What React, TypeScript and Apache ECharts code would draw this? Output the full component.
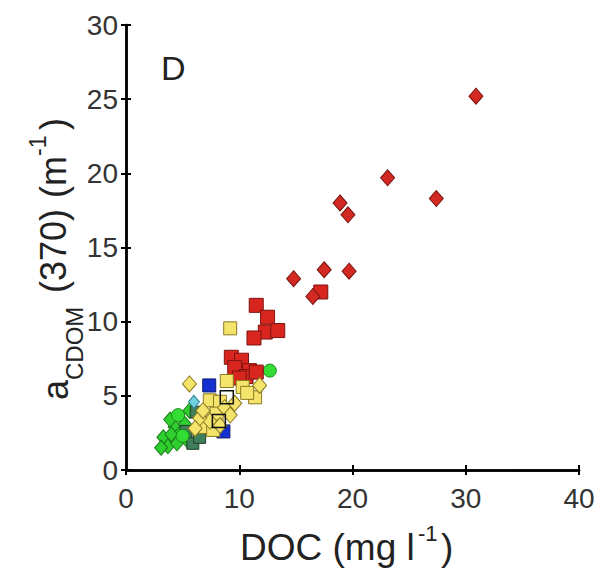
import React, { useEffect, useRef } from "react";
import * as echarts from "echarts";

const xTicks = [0, 10, 20, 30, 40];
const yTicks = [0, 5, 10, 15, 20, 25, 30];

const redDiamonds: number[][] = [
  [30.9, 25.2], [23.1, 19.7], [27.4, 18.3], [18.9, 18.0], [19.6, 17.2],
  [14.8, 12.9], [17.5, 13.5], [19.7, 13.4], [16.5, 11.7],
];
const redSquares: number[][] = [
  [17.2, 12.0], [11.5, 11.1], [12.5, 10.3], [12.3, 9.3], [13.4, 9.4], [11.3, 8.9],
  [9.3, 7.6], [10.2, 7.4], [9.6, 6.9], [10.9, 6.7], [10.6, 6.3], [11.5, 6.6], [10.0, 6.2],
];
const greenCircles: number[][] = [[12.7, 6.7], [4.6, 3.7], [5.0, 2.3]];
const greenDiamonds: number[][] = [
  [3.3, 2.2], [3.7, 1.6], [4.3, 2.9], [4.8, 2.5], [5.4, 2.0], [3.9, 3.4],
  [5.2, 3.1], [5.6, 4.0], [4.5, 1.8], [3.1, 1.5], [4.0, 2.4],
];
const tealSquares: number[][] = [[5.9, 1.8], [6.5, 2.2], [6.2, 3.9], [5.3, 2.6]];
const blackSquares: number[][] = [[8.9, 4.9], [8.2, 3.3]];
const blueSquares: number[][] = [[7.35, 5.7], [8.6, 2.6]];
const cyanDiamonds: number[][] = [[6.0, 4.6]];
const yellowSquares: number[][] = [
  [9.2, 9.55], [8.9, 6.0], [10.3, 5.6], [11.4, 4.9], [10.7, 5.2], [7.4, 4.7],
  [8.3, 4.6], [8.0, 3.8], [7.0, 2.9], [7.7, 2.7],
];
const yellowDiamonds: number[][] = [
  [5.6, 5.8], [11.8, 5.7], [8.7, 4.2], [9.2, 3.7], [7.4, 3.3], [6.5, 3.5],
  [6.1, 2.8], [8.3, 3.0], [6.8, 4.0], [9.6, 4.5],
];

const FONT = "'Liberation Sans', Arial, sans-serif";

export default function App() {
  const ref = useRef<HTMLDivElement>(null);
  useEffect(() => {
    if (!ref.current) return;
    const chart = echarts.init(ref.current, null, { renderer: "svg" });
    const axisLine = { show: true, lineStyle: { color: "#000", width: 2.5 } };
    const tick = { show: true, inside: true, length: 5, lineStyle: { color: "#000", width: 2 } };
    const scatter = (data: number[][], symbol: string, size: any, color: string, border: string, bw = 1) => ({
      type: "scatter",
      data,
      symbol,
      symbolSize: size,
      itemStyle: { color, borderColor: border, borderWidth: bw, opacity: 1 },
      xAxisIndex: 0,
      yAxisIndex: 0,
    });
    const textEl = (text: string, x: number, y: number, size: number, rot = 0, align = "left") => ({
      type: "text",
      x,
      y,
      rotation: rot,
      style: {
        text,
        fontSize: size,
        fontFamily: FONT,
        fill: "#222",
        textAlign: align,
        textVerticalAlign: "middle",
      },
    });
    const R = Math.PI / 2;
    chart.setOption({
      animation: false,
      backgroundColor: "#fff",
      grid: { left: 126, top: 25, right: 21, bottom: 102 },
      xAxis: [
        {
          type: "value", min: 0, max: 40, interval: 10, position: "bottom",
          axisLine, axisTick: tick, splitLine: { show: false },
          axisLabel: { fontSize: 28, color: "#333", fontFamily: FONT, margin: 14 },
        },
        {
          type: "value", min: 0, max: 40, interval: 10, position: "top",
          axisLine, axisTick: tick, splitLine: { show: false }, axisLabel: { show: false },
        },
      ],
      yAxis: [
        {
          type: "value", min: 0, max: 30, interval: 5, position: "left",
          axisLine, axisTick: tick, splitLine: { show: false },
          axisLabel: { fontSize: 28, color: "#333", fontFamily: FONT, margin: 8 },
        },
        {
          type: "value", min: 0, max: 30, interval: 5, position: "right",
          axisLine, axisTick: tick, splitLine: { show: false }, axisLabel: { show: false },
        },
      ],
      series: [
        scatter(greenDiamonds, "diamond", [13, 15], "#2fcf2f", "#1b7a1b"),
        scatter(tealSquares, "rect", 12, "#3f7f5a", "#1f3f2a"),
        scatter(greenCircles, "circle", 13, "#33dd33", "#1a8a1a"),
        scatter(cyanDiamonds, "diamond", [11, 13], "#6fd0e0", "#2f7f8f"),
        scatter(blueSquares, "rect", 13, "#1530d0", "#0a1a70"),
        scatter(redSquares, "rect", 14, "#d8261e", "#7a1410"),
        scatter(redDiamonds, "diamond", [14, 16], "#d22a22", "#7a1410"),
        scatter(yellowSquares, "rect", 13, "#f4e46c", "#8a7a20"),
        scatter(yellowDiamonds, "diamond", [14, 16], "#f4e46c", "#8a7a20"),
        scatter(blackSquares, "rect", 13, "rgba(0,0,0,0)", "#111", 1.5),
      ],
      graphic: [
        textEl("D", 161, 68, 34),
        textEl("DOC (mg l", 240, 547, 37),
        textEl("-1", 418, 533, 22),
        textEl(")", 441, 547, 37),
        textEl("a", 55, 400, 36, R),
        textEl("CDOM", 74, 380, 24, R),
        textEl("(370)", 53, 293, 36, R),
        textEl("(m", 53, 198, 36, R),
        textEl("-1", 38, 156, 23, R),
        textEl(")", 53, 130, 36, R),
      ],
    });
    return () => chart.dispose();
  }, []);
  return <div ref={ref} style={{ position: "absolute", left: 0, top: 0, width: 600, height: 572 }} />;
}
